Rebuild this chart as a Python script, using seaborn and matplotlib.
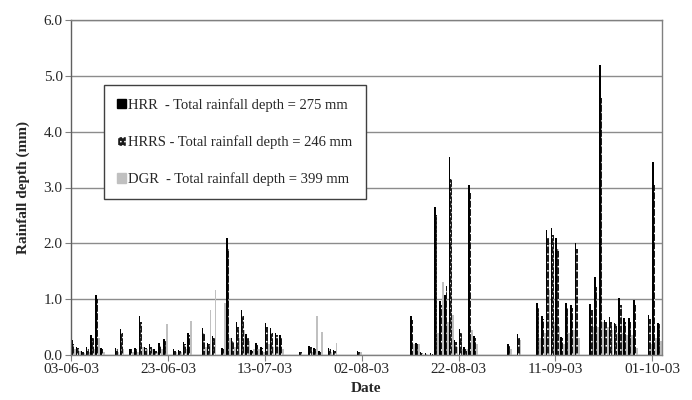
import numpy as np
import pandas as pd
import seaborn as sns
import matplotlib.pyplot as plt
from matplotlib.patches import Patch

# daily rainfall, 03-06-03 .. 02-10-03 (122 days)
start_date = "2003-06-03"
n_days = 122

hrr = [
    0.27, 0.15, 0.08, 0.15, 0.36, 1.08, 0.12, 0, 0, 0.12,
    0.46, 0, 0.11, 0.13, 0.69, 0.15, 0.19, 0.10, 0.21, 0.28,
    0, 0.10, 0.09, 0.23, 0.39, 0, 0, 0.48, 0.21, 0.34,
    0, 0.13, 2.10, 0.30, 0.60, 0.81, 0.37, 0.09, 0.21, 0.15,
    0.57, 0.48, 0.39, 0.36, 0, 0, 0, 0.06, 0, 0.17,
    0.12, 0.08, 0, 0.12, 0.09, 0, 0, 0, 0, 0.08,
    0, 0, 0, 0, 0, 0, 0, 0, 0, 0,
    0.70, 0.21, 0.05, 0.03, 0.03, 2.65, 0.96, 1.08, 3.55, 0.27,
    0.46, 0.15, 3.05, 0.34, 0, 0, 0, 0, 0, 0,
    0.20, 0, 0.37, 0, 0, 0, 0.93, 0.70, 2.24, 2.27,
    2.10, 0.33, 0.93, 0.90, 2.01, 0, 0, 0.91, 1.40, 5.20,
    0.63, 0.68, 0.57, 1.02, 0.66, 0.66, 0.98, 0, 0, 0.72,
    3.45, 0.57,
]
hrrs = [
    0.20, 0.12, 0.06, 0.10, 0.30, 1.00, 0.10, 0, 0, 0.10,
    0.40, 0, 0.10, 0.10, 0.60, 0.12, 0.15, 0.08, 0.18, 0.25,
    0, 0.08, 0.07, 0.20, 0.35, 0, 0, 0.40, 0.20, 0.30,
    0, 0.10, 1.90, 0.25, 0.50, 0.70, 0.30, 0.07, 0.18, 0.12,
    0.50, 0.39, 0.36, 0.33, 0, 0, 0, 0.05, 0, 0.14,
    0.10, 0.06, 0, 0.10, 0.07, 0, 0, 0, 0, 0.06,
    0, 0, 0, 0, 0, 0, 0, 0, 0, 0,
    0.62, 0.20, 0.04, 0.02, 0.02, 2.50, 0.90, 1.24, 3.15, 0.24,
    0.40, 0.10, 2.90, 0.30, 0, 0, 0, 0, 0, 0,
    0.17, 0, 0.30, 0, 0, 0, 0.85, 0.65, 2.10, 2.15,
    1.90, 0.30, 0.85, 0.85, 1.90, 0, 0, 0.80, 1.22, 4.60,
    0.60, 0.60, 0.55, 0.90, 0.60, 0.60, 0.90, 0, 0, 0.65,
    3.05, 0.55,
]
dgr = [
    0.10, 0.08, 0.04, 0.05, 0.10, 0.30, 0.05, 0, 0, 0.05,
    0.10, 0, 0.05, 0.05, 0.15, 0.10, 0.10, 0.05, 0.10, 0.55,
    0, 0.05, 0.05, 0.10, 0.61, 0, 0, 0.15, 0.81, 1.17,
    0, 0.93, 0.30, 0.15, 0.30, 0.45, 0.25, 0.10, 0.10, 0.05,
    0.20, 0.15, 0.15, 0.10, 0, 0, 0, 0, 0, 0.05,
    0.69, 0.42, 0, 0.05, 0.21, 0, 0, 0, 0, 0.06,
    0, 0, 0, 0, 0, 0, 0, 0, 0, 0,
    0.20, 0.20, 0, 0, 0, 0.40, 1.31, 0.60, 0.72, 0.15,
    0.10, 0.10, 0.45, 0.20, 0, 0, 0, 0, 0, 0,
    0.10, 0, 0.27, 0, 0, 0, 0.30, 0.39, 1.17, 0.60,
    0.50, 0.20, 0.40, 0.45, 0.30, 0, 0, 0.50, 0.50, 0.60,
    0.50, 0.45, 0.40, 0.40, 0.35, 0.35, 0.12, 0, 0, 0.20,
    0.30, 0.25,
]

series_names = ["HRR", "HRRS", "DGR"]
legend_labels = [
    "HRR  - Total rainfall depth = 275 mm",
    "HRRS - Total rainfall depth = 246 mm",
    "DGR  - Total rainfall depth = 399 mm",
]

dates = pd.date_range(start_date, periods=n_days, freq="D")
day_labels = list(dates.strftime("%d-%m-%y"))

df = pd.concat(
    [
        pd.DataFrame({"Date": day_labels, "Rainfall": vals, "Series": name})
        for name, vals in zip(series_names, [hrr, hrrs, dgr])
    ],
    ignore_index=True,
)

sns.set_style("white")
plt.rcParams["font.family"] = ["Liberation Serif", "DejaVu Serif"]
plt.rcParams["hatch.linewidth"] = 0.6

fig, ax = plt.subplots(figsize=(6.92, 4.0), dpi=100)
fig.subplots_adjust(left=0.1026, right=0.9566, top=0.95, bottom=0.1125)

sns.barplot(
    data=df,
    x="Date",
    y="Rainfall",
    hue="Series",
    order=day_labels,
    hue_order=series_names,
    palette=["#000000", "#1a1a1a", "#c0c0c0"],
    saturation=1,
    width=0.96,
    errorbar=None,
    legend=False,
    ax=ax,
)

for bar in ax.containers[0]:
    bar.set_linewidth(0)
for bar in ax.containers[1]:
    bar.set_hatch("....")
    bar.set_edgecolor("white")
    bar.set_linewidth(0)
for bar in ax.containers[2]:
    bar.set_linewidth(0)

tick_pos = np.arange(0, n_days, 20)
ax.set_xticks(tick_pos - 0.5)
ax.set_xticklabels([day_labels[i] for i in tick_pos], fontsize=11)
ax.set_xlim(-0.5, n_days - 0.5)

ax.set_ylim(0, 6)
ax.set_yticks(np.arange(0, 6.1, 1))
ax.set_yticklabels([f"{v:.1f}" for v in np.arange(0, 6.1, 1)], fontsize=11)
ax.yaxis.grid(True, color="#8c8c8c", linewidth=1)
ax.set_axisbelow(True)

ax.tick_params(axis="both", direction="out", length=4, width=0.8,
               color="#808080", left=True, bottom=True, pad=2)
for side in ["left", "bottom", "right", "top"]:
    ax.spines[side].set_visible(True)
    ax.spines[side].set_color("#808080")
    ax.spines[side].set_linewidth(1)
ax.spines["left"].set_color("#606060")

ax.set_xlabel("Date", fontsize=11, fontweight="bold", labelpad=4)
ax.set_ylabel("Rainfall depth (mm)", fontsize=11, fontweight="bold", labelpad=10)

handles = [
    Patch(facecolor="#000000", edgecolor="#000000"),
    Patch(facecolor="#1a1a1a", edgecolor="white", hatch="...."),
    Patch(facecolor="#c0c0c0", edgecolor="#c0c0c0"),
]
leg = ax.legend(
    handles,
    legend_labels,
    loc="upper left",
    bbox_to_anchor=(0.056, 0.806),
    borderaxespad=0,
    frameon=True,
    fancybox=False,
    framealpha=1,
    edgecolor="#404040",
    handlelength=0.6,
    handleheight=0.6,
    handletextpad=0.15,
    labelspacing=1.6,
    borderpad=0.9,
    fontsize=10.5,
)
leg.get_frame().set_linewidth(1)

plt.savefig("out.png", dpi=100)
plt.close()
